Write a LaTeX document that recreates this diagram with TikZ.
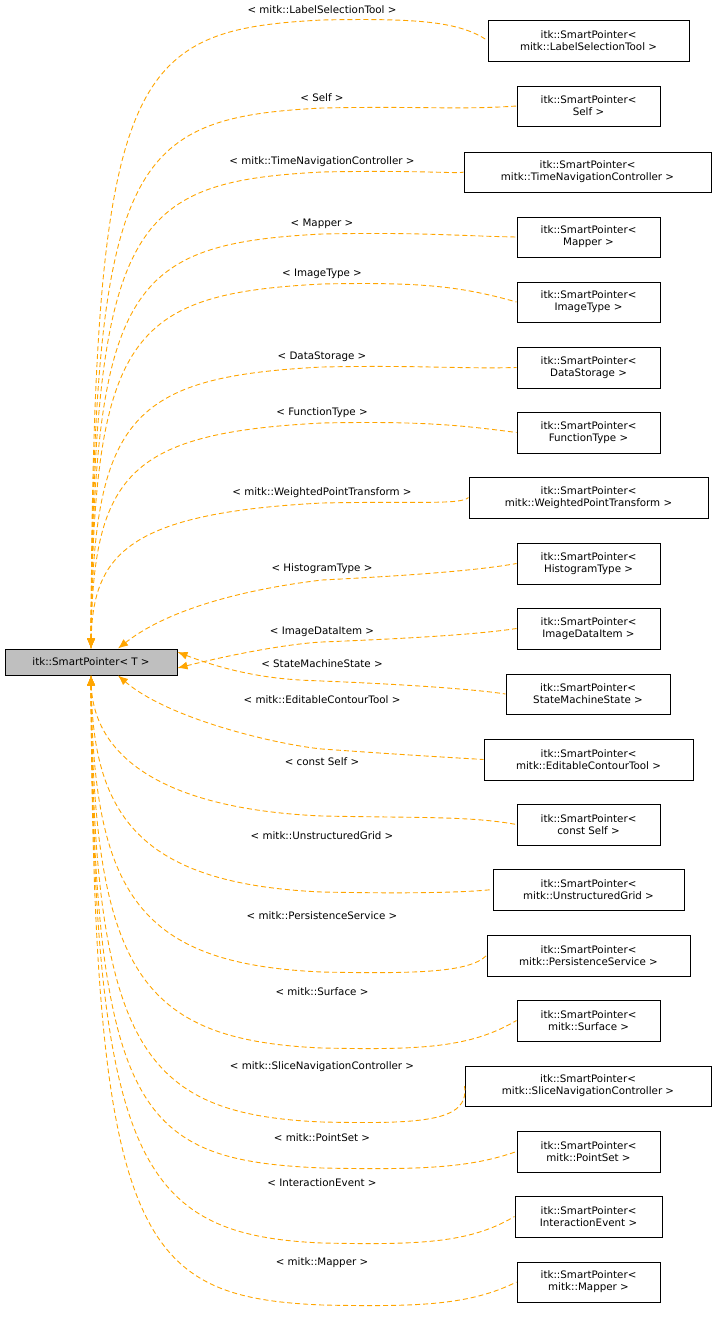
\documentclass[tikz,border=0pt]{standalone}
\usepackage{fontspec}
\setmainfont{DejaVu Sans}
\usetikzlibrary{arrows.meta}
\definecolor{edgeor}{RGB}{255,165,0}
\begin{document}
\begin{tikzpicture}[x=1pt,y=-1pt,
 box/.style={draw,line width=1pt,fill=white,inner sep=0pt,align=center,font=\fontsize{10.3}{12}\selectfont},
 lab/.style={font=\fontsize{10.3}{12}\selectfont,inner sep=1pt},
 edge/.style={draw=edgeor,line width=0.9pt,dash pattern=on 5pt off 3pt,{Latex[length=10pt,width=8pt,fill=edgeor]}-}]
\useasboundingbox (0,0) rectangle (717,1331);
\node[box,fill={rgb,255:red,191;green,191;blue,191},minimum width=172pt,minimum height=26pt] (m) at (91,662) {itk::SmartPointer< T >};
\def\rb#1#2#3#4#5#6{\node[box,minimum width=#4-#2,minimum height=#5-#3] (#1) at ({(#2+#4)/2},{(#3+#5)/2}) {itk::SmartPointer<\\ #6 >};}
\rb{r1}{488}{20}{689}{61}{mitk::LabelSelectionTool}
\rb{r2}{517}{86}{660}{126}{Self}
\rb{r3}{464}{152}{711}{192}{mitk::TimeNavigationController}
\rb{r4}{517}{217}{660}{257}{Mapper}
\rb{r5}{517}{282}{660}{322}{ImageType}
\rb{r6}{517}{347}{660}{388}{DataStorage}
\rb{r7}{517}{412}{660}{453}{FunctionType}
\rb{r8}{469}{477}{708}{518}{mitk::WeightedPointTransform}
\rb{r9}{517}{543}{660}{584}{HistogramType}
\rb{r10}{517}{608}{660}{649}{ImageDataItem}
\rb{r11}{506}{674}{670}{714}{StateMachineState}
\rb{r12}{484}{739}{693}{780}{mitk::EditableContourTool}
\rb{r13}{517}{804}{660}{845}{const Self}
\rb{r14}{493}{869}{684}{910}{mitk::UnstructuredGrid}
\rb{r15}{487}{935}{690}{976}{mitk::PersistenceService}
\rb{r16}{517}{1000}{660}{1041}{mitk::Surface}
\rb{r17}{465}{1066}{711}{1106}{mitk::SliceNavigationController}
\rb{r18}{517}{1131}{660}{1172}{mitk::PointSet}
\rb{r19}{515}{1196}{662}{1237}{InteractionEvent}
\rb{r20}{517}{1262}{660}{1302}{mitk::Mapper}
% top edges
\foreach \r/\y/\l in {r1/10/mitk::LabelSelectionTool, r2/98/Self, r3/162/mitk::TimeNavigationController, r4/224/Mapper, r5/274/ImageType, r6/357/DataStorage, r7/413/FunctionType, r8/493/mitk::WeightedPointTransform}{
 \path[edge] (m.north) .. controls (93,{\y+60}) and (130,{\y+20}) .. (322,{\y+10}) .. controls (420,{\y+8}) and (460,{\y+12}) .. (\r.west);
 \node[lab] at (322,\y) {< \l\ >};
}
\path[edge] ([xshift=27pt]m.north) .. controls (180,600) and (280,585) .. (322,580) .. controls (420,575) and (480,570) .. (r9.west);
\node[lab] at (322,569) {< HistogramType >};
\path[edge] ([yshift=-6pt]m.east) .. controls (250,650) and (300,643) .. (322,642) .. controls (420,638) and (480,634) .. (r10.west);
\node[lab] at (322,632) {< ImageDataItem >};
\path[edge] ([yshift=10pt]m.east) .. controls (250,680) and (300,680) .. (322,681) .. controls (420,685) and (480,690) .. (r11.west);
\node[lab] at (322,664) {< StateMachineState >};
\path[edge] ([xshift=27pt]m.south) .. controls (170,720) and (280,745) .. (322,749) .. controls (420,756) and (460,758) .. (r12.west);
\node[lab] at (322,700) {< mitk::EditableContourTool >};
% bottom edges
\foreach \r/\y/\d/\l in {r13/762/54/const Self, r14/836/56/mitk::UnstructuredGrid, r15/916/56/mitk::PersistenceService, r16/992/56/mitk::Surface, r17/1067/55/mitk::SliceNavigationController, r18/1138/30/mitk::PointSet, r19/1183/60/InteractionEvent, r20/1263/42/mitk::Mapper}{
 \path[edge] (m.south) .. controls (93,{\y-20}) and (140,{\y+\d-8}) .. (322,{\y+\d}) .. controls (420,{\y+\d+2}) and (470,{\y+\d}) .. (\r.west);
 \node[lab] at (322,\y) {< \l\ >};
}
\end{tikzpicture}
\end{document}
